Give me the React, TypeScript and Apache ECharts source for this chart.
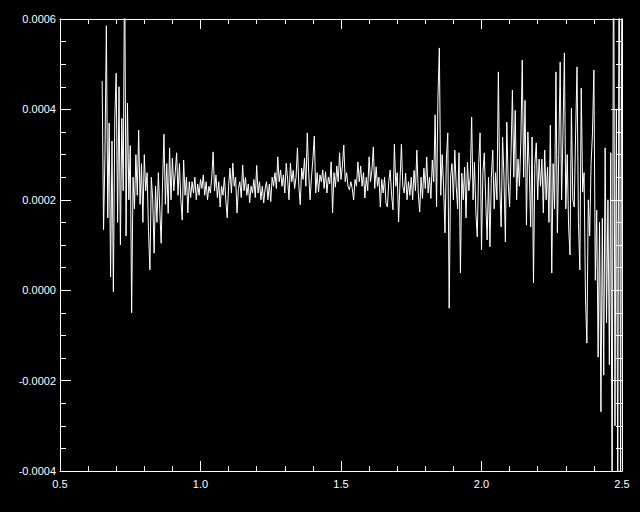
import React, { useEffect, useRef } from "react";
import * as echarts from "echarts";

// Sampling grid of the spectrum (x axis)
const xStart = 0.65;
const xStep = 0.005;

// Signal values in units of 1e-6, in order of x
const segA = [
  463, 134, 300, 585, 160, 370, 29, 330, -4, 380, 480, 150, 450, 100, 380, 220, 750, 120, 414, 200, 320, -50,
];
const segB = [
  250, 180, 300, 210, 354, 190, 280, 150, 300, 220, 260, 130, 45, 250, 200, 82, 230, 150, 260, 180, 104, 240,
  345, 190, 280, 170, 315, 200, 292, 220, 260, 304, 210, 280, 200, 155, 288, 210, 250, 171, 240, 205,
];
const segC = [
  240, 215, 250, 200, 235, 210, 245, 225, 255, 210, 240, 200, 230, 215, 250, 306, 220, 255, 205, 240, 184, 230,
  210, 250, 200, 160, 230, 270, 215, 281, 230, 250, 171, 225, 240, 205, 277, 220, 250, 210, 235, 193, 230, 215,
  245, 205, 276, 215, 240, 200, 230, 193, 225, 240, 200, 235, 196, 250, 230, 260, 225, 295, 240, 266, 230, 255,
  215, 281, 245, 200, 281, 240, 265, 225, 250, 315, 230, 189, 270, 245, 292, 230, 348, 260, 200,
];
const segD = [
  250, 290, 341, 215, 260, 217, 255, 240, 266, 225, 262, 215, 250, 235, 284, 171, 260, 228, 275, 240, 304, 245,
  275, 321, 240, 260, 230, 222, 240, 225, 200, 245, 230, 284, 240, 275, 230, 260, 204, 250, 220, 295, 240, 265,
  317, 225, 273, 230, 250, 184, 245, 215, 250, 193, 184, 240, 266, 210, 178, 323, 230, 260, 151, 240, 323, 230,
  215, 259, 200, 240, 210,
];
const segE = [
  250, 200, 265, 220, 310, 215, 173, 250, 203, 270, 225, 295, 215, 250, 203, 288, 240, 388, 184, 425, 536, 210,
];
const segF = [
  300, 230, 127, 290, 348, -40, 250, 280, 200, 310, 230, 180, 304, 38, 259, 200, 272, 160, 283, 220, 250, 383,
  200, 283, 170, 118, 280, 348, 89, 260, 304, 200, 111, 250, 96, 250, 310, 180, 260, 200, 483, 230, 140, 339,
  250, 107, 372, 240, 184, 300, 443, 250, 398, 200, 290, 230, 330, 509, 250, 420, 144, 350, 270, 140, 339, 16,
  280, 326, 200, 290, 230,
];
const segG = [
  290, 171, 310, 200, 272, 150, 365, 38, 280, 180, 483, 127, 300, 505, 200, 350, 525, 180, 300, 140, 78, 403,
  200, 184, 348, 494, 150, 45, 447, 217, 260, -15, -117, 200, 120, 280, 348, 487, 22, 177, -148, 150, -269, 159,
  -188, 315, -72, 200, -165, 304,
];
const segH = [-520, 900, -300, 400, -480, 950, -450, 900];

const signalMicro = [...segA, ...segB, ...segC, ...segD, ...segE, ...segF, ...segG, ...segH];

// Axis ticks
const xTicks = [0.5, 1.0, 1.5, 2.0, 2.5];
const yTicks = [-0.0004, -0.0002, 0.0, 0.0002, 0.0004, 0.0006];

export default function App() {
  const ref = useRef<HTMLDivElement>(null);

  useEffect(() => {
    document.body.style.margin = "0";
    document.body.style.background = "#000";
    if (!ref.current) return;
    const chart = echarts.init(ref.current, null, { renderer: "svg" });

    const data = signalMicro.map((v, i) => [+(xStart + i * xStep).toFixed(3), v * 1e-6]);

    const font = "Liberation Sans, Arial, sans-serif";
    const white = "#ffffff";

    const xBase = {
      type: "value" as const,
      min: xTicks[0],
      max: xTicks[xTicks.length - 1],
      interval: 0.5,
      axisLine: { show: true, onZero: false, lineStyle: { color: white, width: 1 } },
      axisTick: { show: true, inside: true, length: 10, lineStyle: { color: white, width: 1 } },
      minorTick: { show: true, splitNumber: 5, length: 5, lineStyle: { color: white, width: 1 } },
      splitLine: { show: false },
      minorSplitLine: { show: false },
    };
    const yBase = {
      type: "value" as const,
      min: yTicks[0],
      max: yTicks[yTicks.length - 1],
      interval: 0.0002,
      axisLine: { show: true, onZero: false, lineStyle: { color: white, width: 1 } },
      axisTick: { show: true, inside: true, length: 11, lineStyle: { color: white, width: 1 } },
      minorTick: { show: true, splitNumber: 4, length: 6, lineStyle: { color: white, width: 1 } },
      splitLine: { show: false },
      minorSplitLine: { show: false },
    };

    chart.setOption({
      animation: false,
      backgroundColor: "#000000",
      grid: { left: 60, top: 19, right: 18, bottom: 41, containLabel: false },
      xAxis: [
        {
          ...xBase,
          position: "bottom",
          axisLabel: {
            show: true,
            color: white,
            fontSize: 11,
            fontFamily: font,
            margin: 7,
            formatter: (v: number) => v.toFixed(1),
          },
        },
        { ...xBase, position: "top", axisLabel: { show: false } },
      ],
      yAxis: [
        {
          ...yBase,
          position: "left",
          axisLabel: {
            show: true,
            color: white,
            fontSize: 11,
            fontFamily: font,
            margin: 4,
            formatter: (v: number) => (Math.abs(v) < 1e-10 ? "0.0000" : v.toFixed(4)),
          },
        },
        { ...yBase, position: "right", axisLabel: { show: false } },
      ],
      series: [
        {
          type: "line",
          xAxisIndex: 0,
          yAxisIndex: 0,
          data,
          showSymbol: false,
          symbol: "none",
          clip: true,
          sampling: undefined,
          lineStyle: { color: white, width: 1 },
        },
      ],
    });

    return () => chart.dispose();
  }, []);

  return (
    <div
      ref={ref}
      style={{ position: "absolute", left: 0, top: 0, width: 640, height: 512, background: "#000" }}
    />
  );
}
